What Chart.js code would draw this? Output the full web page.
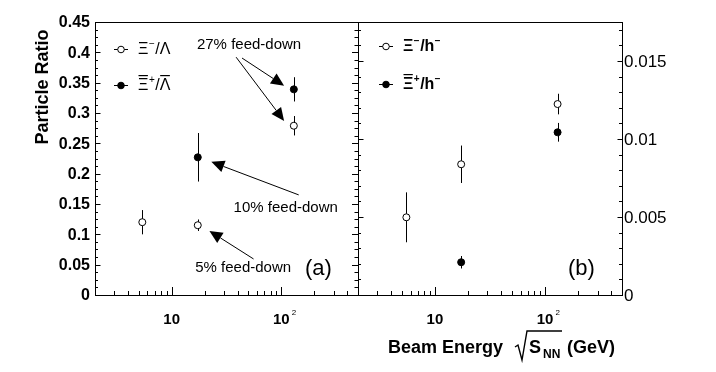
<!DOCTYPE html>
<html><head><meta charset="utf-8">
<script src="https://cdn.jsdelivr.net/npm/chart.js@4.4.1/dist/chart.umd.min.js"></script>
<style>
html,body{margin:0;padding:0;background:#fff;}
#wrap{position:relative;width:716px;height:372px;background:#fff;}
canvas{position:absolute;left:0;top:0;}
</style></head><body>
<div id="wrap"><canvas id="ca" width="716" height="372"></canvas><canvas id="cb" width="716" height="372"></canvas></div>
<script>
// ---------- data ----------
// panel (a)
const energyXiA = [5.4, 17.3, 130];
const xiOverLambda = [0.120, 0.115, 0.279];
const xiOverLambdaErr = [0.020, 0.0095, 0.016];
const energyAxiA = [17.3, 130];
const axiOverALambda = [0.227, 0.339];
const axiOverALambdaErr = [0.040, 0.020];
// panel (b)
const energyXiB = [5.5, 17.3, 130];
const xiOverH = [0.00498, 0.00838, 0.01224];
const xiOverHErr = [0.0016, 0.0012, 0.00066];
const energyAxiB = [17.3, 130];
const axiOverH = [0.0021, 0.01043];
const axiOverHErr = [0.0004, 0.0006];
// tick labels
const yTicksA = [0, 0.05, 0.1, 0.15, 0.2, 0.25, 0.3, 0.35, 0.4, 0.45];
const yTickLabelsA = ['0','0.05','0.1','0.15','0.2','0.25','0.3','0.35','0.4','0.45'];
const yTicksB = [0, 0.005, 0.01, 0.015];
const yTickLabelsB = ['0','0.005','0.01','0.015'];
const xMajorTicks = [10, 100];
const xMajorBase = ['10','10'];
const xMajorExp = ['','2'];
// annotations (data coordinates of panel a)
const feedDownTexts = ['27% feed-down','10% feed-down','5% feed-down'];
const feedDownTextX = [17.0, 36.7, 16.4];
const feedDownTextY = [0.4125, 0.143, 0.044];
const arrowFromX = [43.8, 38.7, 144, 55.8];
const arrowFromY = [0.3906, 0.392, 0.165, 0.0594];
const arrowToX = [106, 106, 23.0, 22.1];
const arrowToY = [0.345, 0.287, 0.2195, 0.1056];

const FONT = '"Liberation Sans", Arial, Helvetica, sans-serif';

function drawLogTicks(ctx, xs, ca) {
  ctx.beginPath();
  for (const d of [1, 10, 100]) {
    for (let k = 1; k <= 9; k++) {
      const v = k * d;
      if (v <= xs.min || v >= xs.max) continue;
      const px = Math.round(xs.getPixelForValue(v)) + 0.5;
      const len = (k === 1) ? 8 : 4;
      ctx.moveTo(px, ca.bottom);
      ctx.lineTo(px, ca.bottom - len);
    }
  }
  ctx.stroke();
  ctx.textBaseline = 'middle';
  xMajorTicks.forEach((v, i) => {
    const px = xs.getPixelForValue(v);
    ctx.font = 'bold 15px ' + FONT;
    ctx.textAlign = 'center';
    ctx.fillText(xMajorBase[i], px, ca.bottom + 25);
    if (xMajorExp[i]) {
      const w = ctx.measureText(xMajorBase[i]).width;
      ctx.font = '8px ' + FONT;
      ctx.textAlign = 'left';
      ctx.fillText(xMajorExp[i], px + w / 2 + 2, ca.bottom + 18);
    }
  });
}

function drawYTicks(ctx, ys, ca, x, dir, step, majorEvery, minLen, majLen) {
  ctx.beginPath();
  const n = Math.round((ys.max - ys.min) / step);
  for (let i = 1; i < n + 1; i++) {
    const v = ys.min + i * step;
    if (v >= ys.max - 1e-12) continue;
    const py = Math.round(ys.getPixelForValue(v)) + 0.5;
    const len = (i % majorEvery === 0) ? majLen : minLen;
    ctx.moveTo(x, py);
    ctx.lineTo(x + dir * len, py);
  }
  ctx.stroke();
}

function errorBars(ctx, chart, xsArr, ysArr, errArr) {
  const xs = chart.scales.x, ys = chart.scales.y;
  ctx.beginPath();
  xsArr.forEach((xv, i) => {
    const px = Math.round(xs.getPixelForValue(xv)) + 0.5;
    ctx.moveTo(px, ys.getPixelForValue(ysArr[i] - errArr[i]));
    ctx.lineTo(px, ys.getPixelForValue(ysArr[i] + errArr[i]));
  });
  ctx.stroke();
}

// rich text: parts {t, sup, over}
function drawRich(ctx, x, y, parts, size, weight) {
  let cx = x;
  parts.forEach(p => {
    if (p.sup) {
      ctx.font = weight + ' ' + Math.round(size * 0.6) + 'px ' + FONT;
      ctx.fillText(p.t, cx + 0.5, y - size * 0.38);
      cx += ctx.measureText(p.t).width + 1;
    } else {
      ctx.font = weight + ' ' + size + 'px ' + FONT;
      ctx.fillText(p.t, cx, y);
      const w = ctx.measureText(p.t).width;
      if (p.over) {
        ctx.fillRect(cx + 0.5, Math.round(y - size * 0.5) - 3, w - 1, 1.2);
      }
      cx += w;
    }
  });
}

function legendSymbol(ctx, cx, cy, filled) {
  ctx.beginPath();
  ctx.moveTo(cx - 7, cy + 0.5);
  ctx.lineTo(cx + 7, cy + 0.5);
  ctx.stroke();
  ctx.beginPath();
  ctx.arc(cx, cy + 0.5, 3.3, 0, Math.PI * 2);
  ctx.fillStyle = filled ? '#000' : '#fff';
  ctx.fill();
  ctx.stroke();
  ctx.fillStyle = '#000';
}

function arrow(ctx, x1, y1, x2, y2) {
  const ang = Math.atan2(y2 - y1, x2 - x1);
  const L = 13, H = 6;
  const bx = x2 - L * Math.cos(ang), by = y2 - L * Math.sin(ang);
  ctx.beginPath();
  ctx.moveTo(x1, y1);
  ctx.lineTo(bx, by);
  ctx.stroke();
  ctx.beginPath();
  ctx.moveTo(x2, y2);
  ctx.lineTo(bx + H * Math.sin(ang), by - H * Math.cos(ang));
  ctx.lineTo(bx - H * Math.sin(ang), by + H * Math.cos(ang));
  ctx.closePath();
  ctx.fill();
}

const panelA = {
  id: 'panelA',
  beforeDatasetsDraw(chart) {
    const ctx = chart.ctx, ca = chart.chartArea;
    const xs = chart.scales.x, ys = chart.scales.y;
    ctx.save();
    ctx.strokeStyle = '#000'; ctx.fillStyle = '#000'; ctx.lineWidth = 1;
    ctx.strokeRect(Math.round(ca.left) + 0.5, Math.round(ca.top) + 0.5, Math.round(ca.right - ca.left), Math.round(ca.bottom - ca.top));
    drawLogTicks(ctx, xs, ca);
    drawYTicks(ctx, ys, ca, Math.round(ca.left) + 0.5, 1, 0.0125, 4, 2.5, 5);
    drawYTicks(ctx, ys, ca, Math.round(ca.right) + 0.5, -1, 0.0125, 4, 4, 6.5);
    ctx.font = 'bold 16px ' + FONT;
    ctx.textAlign = 'right'; ctx.textBaseline = 'middle';
    yTicksA.forEach((v, i) => ctx.fillText(yTickLabelsA[i], ca.left - 5, ys.getPixelForValue(v) + 1));
    ctx.save();
    ctx.translate(43, 87);
    ctx.rotate(-Math.PI / 2);
    ctx.font = 'bold 18px ' + FONT;
    ctx.textAlign = 'center'; ctx.textBaseline = 'middle';
    ctx.fillText('Particle Ratio', 0, 0);
    ctx.restore();
    errorBars(ctx, chart, energyXiA, xiOverLambda, xiOverLambdaErr);
    errorBars(ctx, chart, energyAxiA, axiOverALambda, axiOverALambdaErr);
    ctx.restore();
  },
  afterDatasetsDraw(chart) {
    const ctx = chart.ctx, ca = chart.chartArea;
    const xs = chart.scales.x, ys = chart.scales.y;
    ctx.save();
    ctx.strokeStyle = '#000'; ctx.fillStyle = '#000'; ctx.lineWidth = 1;
    legendSymbol(ctx, 121, 49, false);
    legendSymbol(ctx, 121, 85, true);
    ctx.textAlign = 'left'; ctx.textBaseline = 'middle';
    drawRich(ctx, 138, 50, [{t:'Ξ'},{t:'−',sup:true},{t:'/Λ'}], 16, 'normal');
    drawRich(ctx, 138, 86, [{t:'Ξ',over:true},{t:'+',sup:true},{t:'/'},{t:'Λ',over:true}], 16, 'normal');
    ctx.font = '15px ' + FONT;
    feedDownTexts.forEach((t, i) => ctx.fillText(t, xs.getPixelForValue(feedDownTextX[i]), ys.getPixelForValue(feedDownTextY[i])));
    arrowFromX.forEach((v, i) => arrow(ctx,
      xs.getPixelForValue(v), ys.getPixelForValue(arrowFromY[i]),
      xs.getPixelForValue(arrowToX[i]), ys.getPixelForValue(arrowToY[i])));
    ctx.font = '22px ' + FONT;
    ctx.fillText('(a)', ca.right - 53, ca.bottom - 26);
    ctx.restore();
  }
};

const panelB = {
  id: 'panelB',
  beforeDatasetsDraw(chart) {
    const ctx = chart.ctx, ca = chart.chartArea;
    const xs = chart.scales.x, ys = chart.scales.y;
    ctx.save();
    ctx.strokeStyle = '#000'; ctx.fillStyle = '#000'; ctx.lineWidth = 1;
    ctx.strokeRect(Math.round(ca.left) + 0.5, Math.round(ca.top) + 0.5, Math.round(ca.right - ca.left), Math.round(ca.bottom - ca.top));
    drawLogTicks(ctx, xs, ca);
    drawYTicks(ctx, ys, ca, Math.round(ca.left) + 0.5, 1, 0.001, 5, 2.5, 5);
    drawYTicks(ctx, ys, ca, Math.round(ca.right) + 0.5, -1, 0.001, 5, 3.5, 5);
    ctx.font = '17px ' + FONT;
    ctx.textAlign = 'left'; ctx.textBaseline = 'middle';
    yTicksB.forEach((v, i) => ctx.fillText(yTickLabelsB[i], ca.right + 2, ys.getPixelForValue(v) + 1));
    errorBars(ctx, chart, energyXiB, xiOverH, xiOverHErr);
    errorBars(ctx, chart, energyAxiB, axiOverH, axiOverHErr);
    ctx.textBaseline = 'alphabetic';
    const bl = 353;
    ctx.font = 'bold 18px ' + FONT;
    ctx.fillText('Beam Energy', ca.left + 30, bl);
    const sx = ca.left + 160;
    ctx.lineWidth = 1.4;
    ctx.beginPath();
    ctx.moveTo(sx - 3, bl - 6);
    ctx.lineTo(sx, bl - 8);
    ctx.lineTo(sx + 4, bl + 7);
    ctx.lineTo(sx + 9, bl - 22);
    ctx.lineTo(sx + 44, bl - 22);
    ctx.stroke();
    ctx.fillText('S', sx + 11, bl);
    ctx.font = 'bold 12px ' + FONT;
    ctx.fillText('NN', sx + 25, bl + 5);
    ctx.font = 'bold 18px ' + FONT;
    ctx.fillText('(GeV)', sx + 49, bl);
    ctx.restore();
  },
  afterDatasetsDraw(chart) {
    const ctx = chart.ctx, ca = chart.chartArea;
    ctx.save();
    ctx.strokeStyle = '#000'; ctx.fillStyle = '#000'; ctx.lineWidth = 1;
    legendSymbol(ctx, 386, 46, false);
    legendSymbol(ctx, 386, 84, true);
    ctx.textAlign = 'left'; ctx.textBaseline = 'middle';
    drawRich(ctx, 403, 47, [{t:'Ξ'},{t:'−',sup:true},{t:'/h'},{t:'−',sup:true}], 16, 'bold');
    drawRich(ctx, 403, 85, [{t:'Ξ',over:true},{t:'+',sup:true},{t:'/h'},{t:'−',sup:true}], 16, 'bold');
    ctx.font = '22px ' + FONT;
    ctx.fillText('(b)', ca.right - 54, ca.bottom - 26);
    ctx.restore();
  }
};

function pts(xsArr, ysArr) { return xsArr.map((x, i) => ({x, y: ysArr[i]})); }

function ds(data, filled) {
  return {
    data, showLine: false,
    pointStyle: 'circle', pointRadius: 3.5, pointHoverRadius: 3.5,
    pointBorderWidth: 1, pointBorderColor: '#000',
    pointBackgroundColor: filled ? '#000' : '#fff'
  };
}

function baseOptions(ymax, pad) {
  return {
    responsive: false, animation: false, events: [],
    layout: { padding: pad },
    plugins: { legend: { display: false }, tooltip: { enabled: false } },
    scales: {
      x: { type: 'logarithmic', min: 2, max: 500, display: false },
      y: { type: 'linear', min: 0, max: ymax, display: false }
    }
  };
}

new Chart(document.getElementById('ca'), {
  type: 'scatter',
  data: { datasets: [ds(pts(energyXiA, xiOverLambda), false), ds(pts(energyAxiA, axiOverALambda), true)] },
  options: baseOptions(0.45, { left: 95, top: 22, right: 358, bottom: 77 }),
  plugins: [panelA]
});

new Chart(document.getElementById('cb'), {
  type: 'scatter',
  data: { datasets: [ds(pts(energyXiB, xiOverH), false), ds(pts(energyAxiB, axiOverH), true)] },
  options: baseOptions(0.0175, { left: 358, top: 22, right: 94, bottom: 77 }),
  plugins: [panelB]
});
</script>
</body></html>
